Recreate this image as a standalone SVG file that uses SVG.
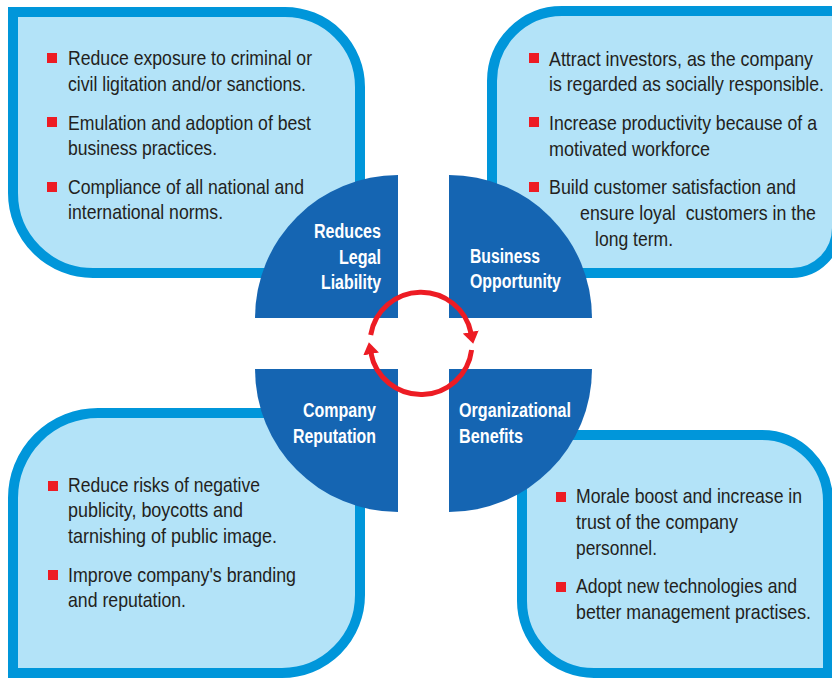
<svg xmlns="http://www.w3.org/2000/svg" width="832" height="678" viewBox="0 0 832 678">
  <style>
    .box { fill: #b3e3f8; stroke: #0096da; stroke-width: 10; }
    .quad { fill: #1565b2; }
    .bullet { fill: #ed1c24; }
    .t { font-family: "Liberation Sans", Arial, sans-serif; font-size: 21px; fill: #231f20; }
    .lbl { font-family: "Liberation Sans", Arial, sans-serif; font-size: 20px; font-weight: bold; fill: #ffffff; }
    .cycle { fill: none; stroke: #ed1c24; stroke-width: 5; }
  </style>
  <defs>
    <marker id="head" viewBox="0 0 12 16" refX="1" refY="8" markerWidth="12" markerHeight="16" markerUnits="userSpaceOnUse" orient="auto">
      <path d="M0,0 L12,8 L0,16 Z" fill="#ed1c24"/>
    </marker>
  </defs>

  <rect width="832" height="678" fill="#ffffff"/>

  <!-- top-left panel: legal liability (condensed text via horizontal scale) -->
  <g id="panel-legal">
    <path class="box" d="M13,12 L285,12 A75,75 0 0 1 360,87 L360,273 L93,273 A80,80 0 0 1 13,193 Z"/>
    <rect class="bullet" x="47" y="53" width="10" height="10"/>
    <text class="t" transform="translate(68 65) scale(0.85 1)" textLength="287.1" lengthAdjust="spacingAndGlyphs">Reduce exposure to criminal or</text>
    <text class="t" transform="translate(68 91) scale(0.85 1)" textLength="280" lengthAdjust="spacingAndGlyphs">civil ligitation and/or sanctions.</text>
    <rect class="bullet" x="47" y="117" width="10" height="10"/>
    <text class="t" transform="translate(68 130) scale(0.85 1)" textLength="285.9" lengthAdjust="spacingAndGlyphs">Emulation and adoption of best</text>
    <text class="t" transform="translate(68 155) scale(0.85 1)" textLength="175.3" lengthAdjust="spacingAndGlyphs">business practices.</text>
    <rect class="bullet" x="47" y="182" width="10" height="10"/>
    <text class="t" transform="translate(68 194) scale(0.85 1)" textLength="277.6" lengthAdjust="spacingAndGlyphs">Compliance of all national and</text>
    <text class="t" transform="translate(68 219) scale(0.85 1)" textLength="182.4" lengthAdjust="spacingAndGlyphs">international norms.</text>
  </g>

  <!-- top-right panel: business opportunity -->
  <g id="panel-business">
    <path class="box" d="M492,81 A70,70 0 0 1 562,11 L837,11 L837,228 A45,45 0 0 1 792,273 L492,273 Z"/>
    <rect class="bullet" x="529" y="53" width="10" height="10"/>
    <text class="t" transform="translate(549 66) scale(0.85 1)" textLength="310.6" lengthAdjust="spacingAndGlyphs">Attract investors, as the company</text>
    <text class="t" transform="translate(549 91) scale(0.85 1)" textLength="323.5" lengthAdjust="spacingAndGlyphs">is regarded as socially responsible.</text>
    <rect class="bullet" x="529" y="117" width="10" height="10"/>
    <text class="t" transform="translate(549 130) scale(0.85 1)" textLength="315.3" lengthAdjust="spacingAndGlyphs">Increase productivity because of a</text>
    <text class="t" transform="translate(549 156) scale(0.85 1)" textLength="189.4" lengthAdjust="spacingAndGlyphs">motivated workforce</text>
    <rect class="bullet" x="529" y="182" width="10" height="10"/>
    <text class="t" transform="translate(549 194) scale(0.85 1)" textLength="290.6" lengthAdjust="spacingAndGlyphs">Build customer satisfaction and</text>
    <text class="t" transform="translate(580 220) scale(0.85 1)" textLength="277.6" lengthAdjust="spacingAndGlyphs" xml:space="preserve">ensure loyal  customers in the</text>
    <text class="t" transform="translate(595 246) scale(0.85 1)" textLength="91.8" lengthAdjust="spacingAndGlyphs">long term.</text>
  </g>

  <!-- bottom-left panel: company reputation -->
  <g id="panel-reputation">
    <path class="box" d="M13,498 A85,85 0 0 1 98,413 L360,413 L360,595 A78,78 0 0 1 282,673 L13,673 Z"/>
    <rect class="bullet" x="48" y="481" width="10" height="10"/>
    <text class="t" transform="translate(68 492) scale(0.85 1)" textLength="225.9" lengthAdjust="spacingAndGlyphs">Reduce risks of negative</text>
    <text class="t" transform="translate(68 517) scale(0.85 1)" textLength="205.9" lengthAdjust="spacingAndGlyphs">publicity, boycotts and</text>
    <text class="t" transform="translate(68 543) scale(0.85 1)" textLength="245.9" lengthAdjust="spacingAndGlyphs">tarnishing of public image.</text>
    <rect class="bullet" x="48" y="570" width="10" height="10"/>
    <text class="t" transform="translate(68 582) scale(0.85 1)" textLength="268.2" lengthAdjust="spacingAndGlyphs">Improve company's branding</text>
    <text class="t" transform="translate(68 607) scale(0.85 1)" textLength="138.8" lengthAdjust="spacingAndGlyphs">and reputation.</text>
  </g>

  <!-- bottom-right panel: organizational benefits -->
  <g id="panel-organization">
    <path class="box" d="M522,435 L762,435 A66,66 0 0 1 828,501 L828,673 L594,673 A72,72 0 0 1 522,601 Z"/>
    <rect class="bullet" x="556" y="492" width="10" height="10"/>
    <text class="t" transform="translate(576 503) scale(0.85 1)" textLength="265.9" lengthAdjust="spacingAndGlyphs">Morale boost and increase in</text>
    <text class="t" transform="translate(576 529) scale(0.85 1)" textLength="190.6" lengthAdjust="spacingAndGlyphs">trust of the company</text>
    <text class="t" transform="translate(576 555) scale(0.85 1)" textLength="95.3" lengthAdjust="spacingAndGlyphs">personnel.</text>
    <rect class="bullet" x="556" y="582" width="10" height="10"/>
    <text class="t" transform="translate(576 593) scale(0.85 1)" textLength="260" lengthAdjust="spacingAndGlyphs">Adopt new technologies and</text>
    <text class="t" transform="translate(576 619) scale(0.85 1)" textLength="276.5" lengthAdjust="spacingAndGlyphs">better management practises.</text>
  </g>

  <!-- central quarter-circle segments -->
  <g id="quad-legal">
    <path class="quad" d="M398,318 L255,318 A143,143 0 0 1 398,175 Z"/>
    <text class="lbl" transform="translate(314 238) scale(0.81 1)" textLength="82.7" lengthAdjust="spacingAndGlyphs">Reduces</text>
    <text class="lbl" transform="translate(339 264) scale(0.81 1)" textLength="51.9" lengthAdjust="spacingAndGlyphs">Legal</text>
    <text class="lbl" transform="translate(321 289) scale(0.81 1)" textLength="74.1" lengthAdjust="spacingAndGlyphs">Liability</text>
  </g>
  <g id="quad-business">
    <path class="quad" d="M449,318 L449,175 A143,143 0 0 1 592,318 Z"/>
    <text class="lbl" transform="translate(470 263) scale(0.81 1)" textLength="86.4" lengthAdjust="spacingAndGlyphs">Business</text>
    <text class="lbl" transform="translate(470 288) scale(0.81 1)" textLength="112.3" lengthAdjust="spacingAndGlyphs">Opportunity</text>
  </g>
  <g id="quad-reputation">
    <path class="quad" d="M398,369 L398,512 A143,143 0 0 1 255,369 Z"/>
    <text class="lbl" transform="translate(303 417) scale(0.81 1)" textLength="90.1" lengthAdjust="spacingAndGlyphs">Company</text>
    <text class="lbl" transform="translate(293 443) scale(0.81 1)" textLength="102.5" lengthAdjust="spacingAndGlyphs">Reputation</text>
  </g>
  <g id="quad-organization">
    <path class="quad" d="M449,369 L592,369 A143,143 0 0 1 449,512 Z"/>
    <text class="lbl" transform="translate(459 417) scale(0.81 1)" textLength="138.3" lengthAdjust="spacingAndGlyphs">Organizational</text>
    <text class="lbl" transform="translate(459 443) scale(0.81 1)" textLength="79" lengthAdjust="spacingAndGlyphs">Benefits</text>
  </g>

  <!-- cycle arrows -->
  <g id="connectors">
    <path class="cycle" d="M370.7,335 A51,51 0 0 1 471,333" marker-end="url(#head)"/>
    <path class="cycle" d="M471.6,350 A51,51 0 0 1 370.9,353" marker-end="url(#head)"/>
  </g>
</svg>
